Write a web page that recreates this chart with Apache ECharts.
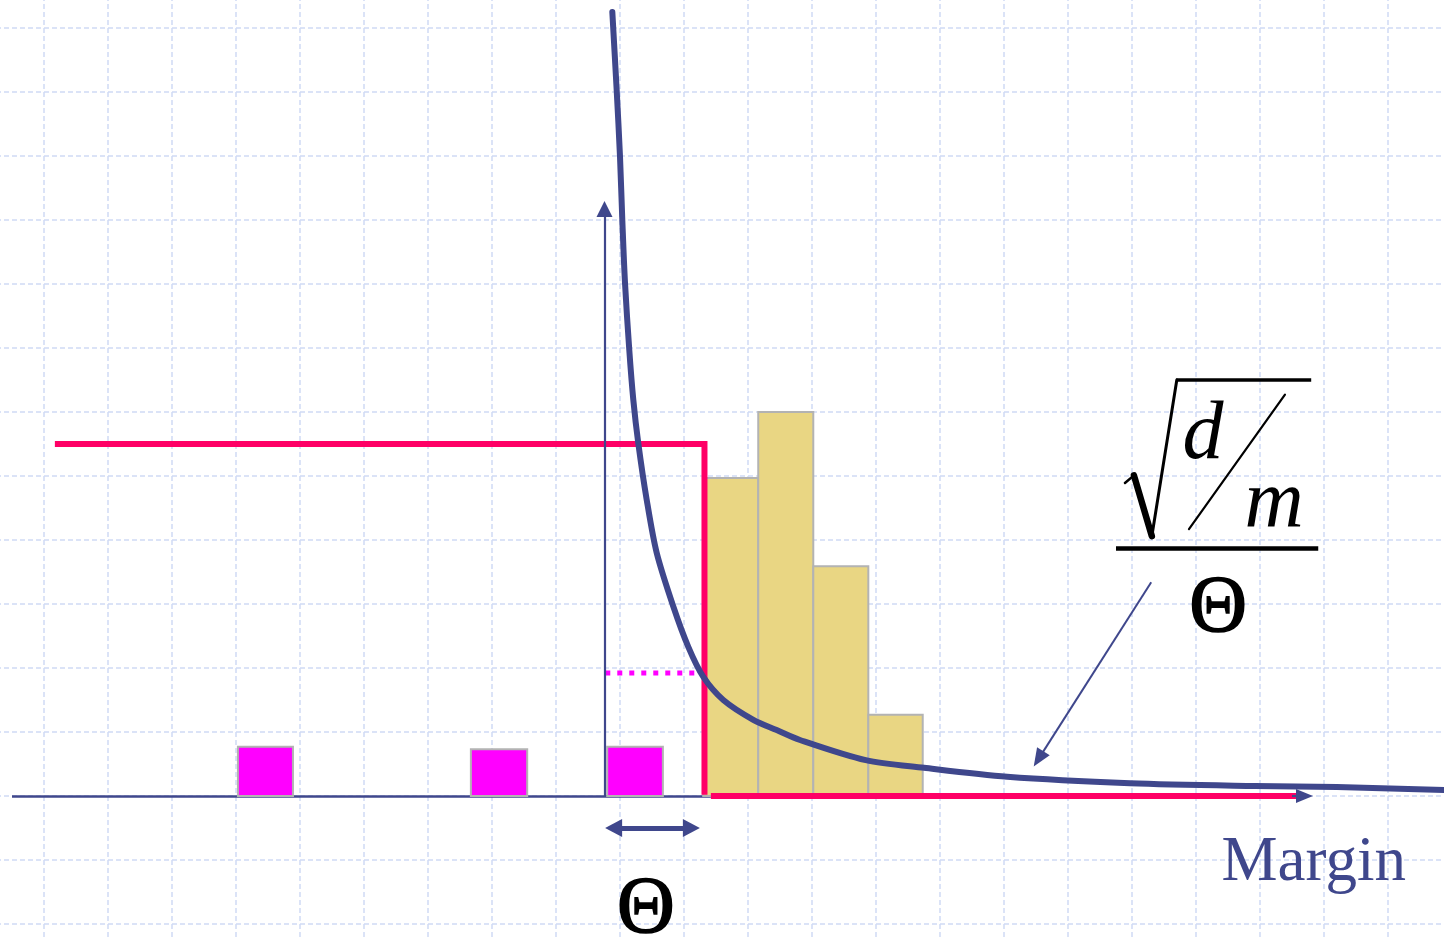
<!DOCTYPE html>
<html>
<head>
<meta charset="utf-8">
<title>Margin distribution</title>
<script src="https://cdn.jsdelivr.net/npm/echarts@6/dist/echarts.min.js"></script>
<style>
  html, body { margin: 0; padding: 0; background: #ffffff; }
  #chart { width: 1444px; height: 937px; }
</style>
</head>
<body>
<div id="chart"></div>
<script>
// ---- data (one grid square = one unit) ----
// histogram of margins of the correctly classified examples
const binEdges = [10.3, 11.16, 12.02, 12.88, 13.73];
const binCounts = [4.97, 6.0, 3.59, 1.27];

// examples with small margin (errors), drawn as squares
const lowLeft = [3.03, 6.67, 8.80];
const lowRight = [3.89, 7.55, 9.67];
const lowHeight = [0.77, 0.73, 0.77];

// step loss: 1 below the threshold Θ, 0 above it
const thetaX = 10.32;
const stepLevel = 5.5;
const stepStart = 0.17;
const stepEnd = 19.62;
const zeroStart = 10.42;

// bound curve  sqrt(d/m) / Θ
const boundX = [8.880, 8.948, 9.0, 9.036, 9.078, 9.145, 9.208, 9.286, 9.417, 9.573,
                9.833, 10.067, 10.302, 10.614, 11.083, 11.448, 11.8125, 12.84, 13.75,
                15.05, 16.97, 18.92, 20.2, 21.875, 22.0];
const boundY = [12.25, 11.03, 9.99, 9.0, 8.02, 6.97, 6.19, 5.51, 4.63, 3.80,
                2.96, 2.33, 1.86, 1.50, 1.19, 1.03, 0.875, 0.56, 0.44,
                0.30, 0.20, 0.156, 0.14, 0.094, 0.092];

// value of the bound at the threshold
const boundAtTheta = 1.92;

// ---- styles ----
const BLUE = '#3f478c';
const RED = '#ff0066';
const MAGENTA = '#ff00ff';
const SAND = '#e9d683';
const EDGE = '#b3b3b3';
const GRIDLINE = '#cfdaf5';
const SERIF = '"Liberation Serif", "Times New Roman", "DejaVu Serif", serif';

const chart = echarts.init(document.getElementById('chart'), null, { renderer: 'canvas' });

const rectItem = (color) => function (params, api) {
  const p0 = api.coord([api.value(0), 0]);
  const p1 = api.coord([api.value(1), api.value(2)]);
  return {
    type: 'rect',
    shape: { x: p0[0], y: p1[1], width: p1[0] - p0[0], height: p0[1] - p1[1] },
    style: { fill: color, stroke: EDGE, lineWidth: 2 }
  };
};

const histData = binCounts.map((h, i) => [binEdges[i], binEdges[i + 1], h]);
const lowData = lowHeight.map((h, i) => [lowLeft[i], lowRight[i], h]);
const boundData = boundX.map((x, i) => [x, boundY[i]]);

const axisCommon = {
  type: 'value',
  interval: 1,
  axisLine: { show: false },
  axisTick: { show: false },
  axisLabel: { show: false },
  splitLine: { show: true, lineStyle: { color: GRIDLINE, width: 1.5, type: [5, 3] } }
};

const seg = (a, b, style) => ({ coords: [a, b], lineStyle: style });

const option = {
  animation: false,
  backgroundColor: '#ffffff',
  grid: {
    left: -20, top: -36, width: 1472, height: 1024,
    show: false, containLabel: false, outerBoundsMode: 'none'
  },
  xAxis: Object.assign({ min: -1, max: 22 }, axisCommon),
  yAxis: Object.assign({ min: -3, max: 13 }, axisCommon),
  series: [
    // horizontal margin axis (left part, under the red step)
    {
      type: 'lines', coordinateSystem: 'cartesian2d', z: 1,
      symbol: ['none', 'none'],
      lineStyle: { color: BLUE, width: 2.5, opacity: 1 },
      data: [seg([-0.5, 0], [zeroStart, 0])]
    },
    // histogram
    {
      type: 'custom', z: 2, renderItem: rectItem(SAND),
      encode: { x: [0, 1], y: 2 }, data: histData
    },
    // small-margin examples
    {
      type: 'custom', z: 2, renderItem: rectItem(MAGENTA),
      encode: { x: [0, 1], y: 2 }, data: lowData
    },
    // dotted level of the bound at Θ
    {
      type: 'line', z: 3, symbol: 'none',
      lineStyle: { color: MAGENTA, width: 5, type: [5, 7] },
      data: [[8.77, boundAtTheta], [thetaX - 0.05, boundAtTheta]]
    },
    // step loss
    {
      type: 'line', z: 4, symbol: 'none',
      lineStyle: { color: RED, width: 6, join: 'miter', cap: 'butt' },
      data: [[stepStart, stepLevel], [thetaX, stepLevel], [thetaX, 0.02]]
    },
    {
      type: 'line', z: 4, symbol: 'none',
      lineStyle: { color: RED, width: 6, cap: 'butt' },
      data: [[zeroStart, 0], [stepEnd, 0]]
    },
    // arrowhead of the margin axis, vertical axis at 0, Θ width arrow
    {
      type: 'lines', coordinateSystem: 'cartesian2d', z: 5,
      symbol: ['none', 'triangle'],
      symbolSize: [0, [14, 17]],
      lineStyle: { color: BLUE, width: 2.2, opacity: 1 },
      data: [
        seg([19.5, 0], [19.695, 0]),
        { coords: [[8.758, 0], [8.758, 9.17]], symbolSize: [0, [16, 16]] }
      ]
    },
    {
      type: 'lines', coordinateSystem: 'cartesian2d', z: 5,
      symbol: ['triangle', 'triangle'],
      symbolSize: [[18, 17], [18, 17]],
      lineStyle: { color: BLUE, width: 5, opacity: 1 },
      data: [seg([8.9, -0.5], [10.115, -0.5])]
    },
    // bound curve
    {
      type: 'line', z: 6, symbol: 'none',
      smooth: 0.3,
      lineStyle: { color: BLUE, width: 6, cap: 'round', join: 'round' },
      data: boundData
    },
    // pointer from the formula to the curve
    {
      type: 'lines', coordinateSystem: 'cartesian2d', z: 7,
      symbol: ['none', 'triangle'],
      symbolSize: [0, [15, 18]],
      lineStyle: { color: BLUE, width: 2, opacity: 1 },
      data: [seg([17.30, 3.34], [15.54, 0.58])]
    },
    // radical, slash and fraction bar of sqrt(d/m)/Θ
    {
      type: 'lines', coordinateSystem: 'cartesian2d', z: 7,
      symbol: ['none', 'none'],
      lineStyle: { color: '#000000', width: 2, opacity: 1, cap: 'round' },
      data: [
        seg([16.89, 4.89], [17.03, 5.01], { width: 2.5 }),
        seg([17.03, 5.01], [17.31, 4.06], { width: 6.5 }),
        seg([17.31, 4.06], [17.70, 6.50], { width: 3 }),
        seg([17.69, 6.50], [19.80, 6.50], { width: 3.5, cap: 'butt' }),
        seg([17.89, 4.17], [19.39, 6.27], { width: 2.2 }),
        seg([16.75, 3.875], [19.91, 3.875], { width: 4.5, cap: 'butt' })
      ]
    }
  ]
};

chart.setOption(option);

// text labels, placed in the same coordinates as the marks
const at = (p) => chart.convertToPixel({ gridIndex: 0 }, p);
const label = (p, text, style) => {
  const q = at(p);
  return {
    type: 'text', x: q[0], y: q[1], z: 100,
    style: Object.assign({
      text: text, align: 'center', verticalAlign: 'middle',
      fontFamily: SERIF, fill: '#000000'
    }, style)
  };
};

const thetaStyle = { fontSize: 80, stroke: '#000000', lineWidth: 1.6 };

chart.setOption({
  graphic: [
    label([9.406, -1.80], 'Θ', thetaStyle),
    label([18.344, 2.90], 'Θ', thetaStyle),
    label([18.11, 5.625], 'd', { fontSize: 82, fontStyle: 'italic' }),
    label([19.22, 4.56], 'm', { fontSize: 82, fontStyle: 'italic' }),
    label([19.84, -1.05], 'Margin', { fontSize: 63, fill: BLUE })
  ]
});
</script>
</body>
</html>
